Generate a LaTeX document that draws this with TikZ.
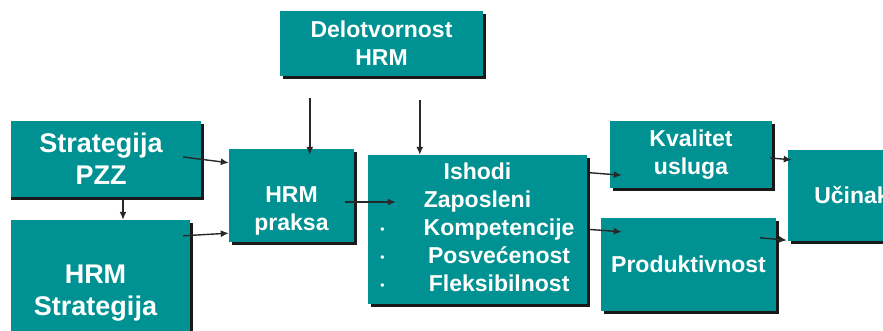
\documentclass[tikz,border=0pt]{standalone}
\usepackage{fontspec}
\setmainfont{Liberation Sans}
\usetikzlibrary{arrows.meta,shadows}
\definecolor{hrmteal}{RGB}{0,146,146}
\definecolor{linkgray}{RGB}{40,40,40}
\newcommand\hrmbullet{\raisebox{2pt}{\fontsize{12}{12}\selectfont\textbullet}}

\begin{document}
\begin{tikzpicture}[x=1pt,y=1pt,
	box/.style={fill=hrmteal, text=white, font=\bfseries\fontsize{23}{28}\selectfont,
		align=center, inner sep=0pt,
		drop shadow={shadow xshift=3pt,shadow yshift=-3pt,fill=black,opacity=0.9}},
	bigbox/.style={box, font=\bfseries\fontsize{27}{32}\selectfont},
	link/.style={draw=linkgray, line width=1.4pt, -{Latex[length=8pt,width=7pt]}}]
	\useasboundingbox (0,0) rectangle (883,331);
	\clip (11,0) rectangle (883,331);
	% top
	\node[box, minimum width=203, minimum height=65] (delo) at (381.5,287.5) {Delotvornost\\HRM};
	% left
	\node[bigbox, minimum width=200, minimum height=76] (pzz) at (101,172) {Strategija\\PZZ};
	\node[bigbox, minimum width=189, minimum height=146] (hrmstrat) at (95.5,38) {HRM\\Strategija};
	% middle
	\node[box, minimum width=125, minimum height=93] (praksa) at (291.5,135.5) {\rule{0pt}{46pt}HRM\\praksa};
	\node[box, minimum width=219, minimum height=149] (ishodi) at (477.5,101.5) {%
		\begin{tabular}{@{}l@{\hspace{39pt}}c@{}}
			\multicolumn{2}{c}{Ishodi}\\
			\multicolumn{2}{c}{Zaposleni}\\
			\hrmbullet & Kompetencije\\
			\hrmbullet & Posvećenost\\
			\hrmbullet & Fleksibilnost
		\end{tabular}};
	% right
	\node[box, minimum width=162, minimum height=67] (kval) at (691,176.5) {Kvalitet\\usluga};
	\node[box, minimum width=175, minimum height=93] (prod) at (688.5,66.5) {Produktivnost};
	\node[box, minimum width=128, minimum height=91] (ucinak) at (852,135.5) {Učinak};
	% connections
	\draw[link] ([xshift=30,yshift=-22]delo.south west) -- ([xshift=81,yshift=-6]praksa.north west);
	\draw[link] ([xshift=140,yshift=-24]delo.south west) -- ([xshift=52]ishodi.north west);
	\draw[link] ([xshift=-18,yshift=2]pzz.east) -- ([yshift=-14]praksa.north west);
	\draw[link] ([xshift=-7,yshift=-16]hrmstrat.north east) -- ([yshift=9]praksa.south west);
	\draw[link] ([xshift=22,yshift=-3]pzz.south) -- ([xshift=27.5]hrmstrat.north);
	\draw[link] ([xshift=-9,yshift=-6.5]praksa.east) -- ([xshift=28,yshift=27.5]ishodi.west);
	\draw[link] ([xshift=3,yshift=-18]ishodi.north east) -- ([xshift=12,yshift=13]kval.south west);
	\draw[link] ([xshift=3]ishodi.east) -- ([xshift=21,yshift=-14]prod.north west);
	\draw[link] ([xshift=-2,yshift=-3.5]kval.east) -- ([xshift=4,yshift=-10]ucinak.north west);
	\draw[link] ([xshift=-16,yshift=-20]prod.north east) -- ([xshift=-1,yshift=1]ucinak.south west);
\end{tikzpicture}
\end{document}
